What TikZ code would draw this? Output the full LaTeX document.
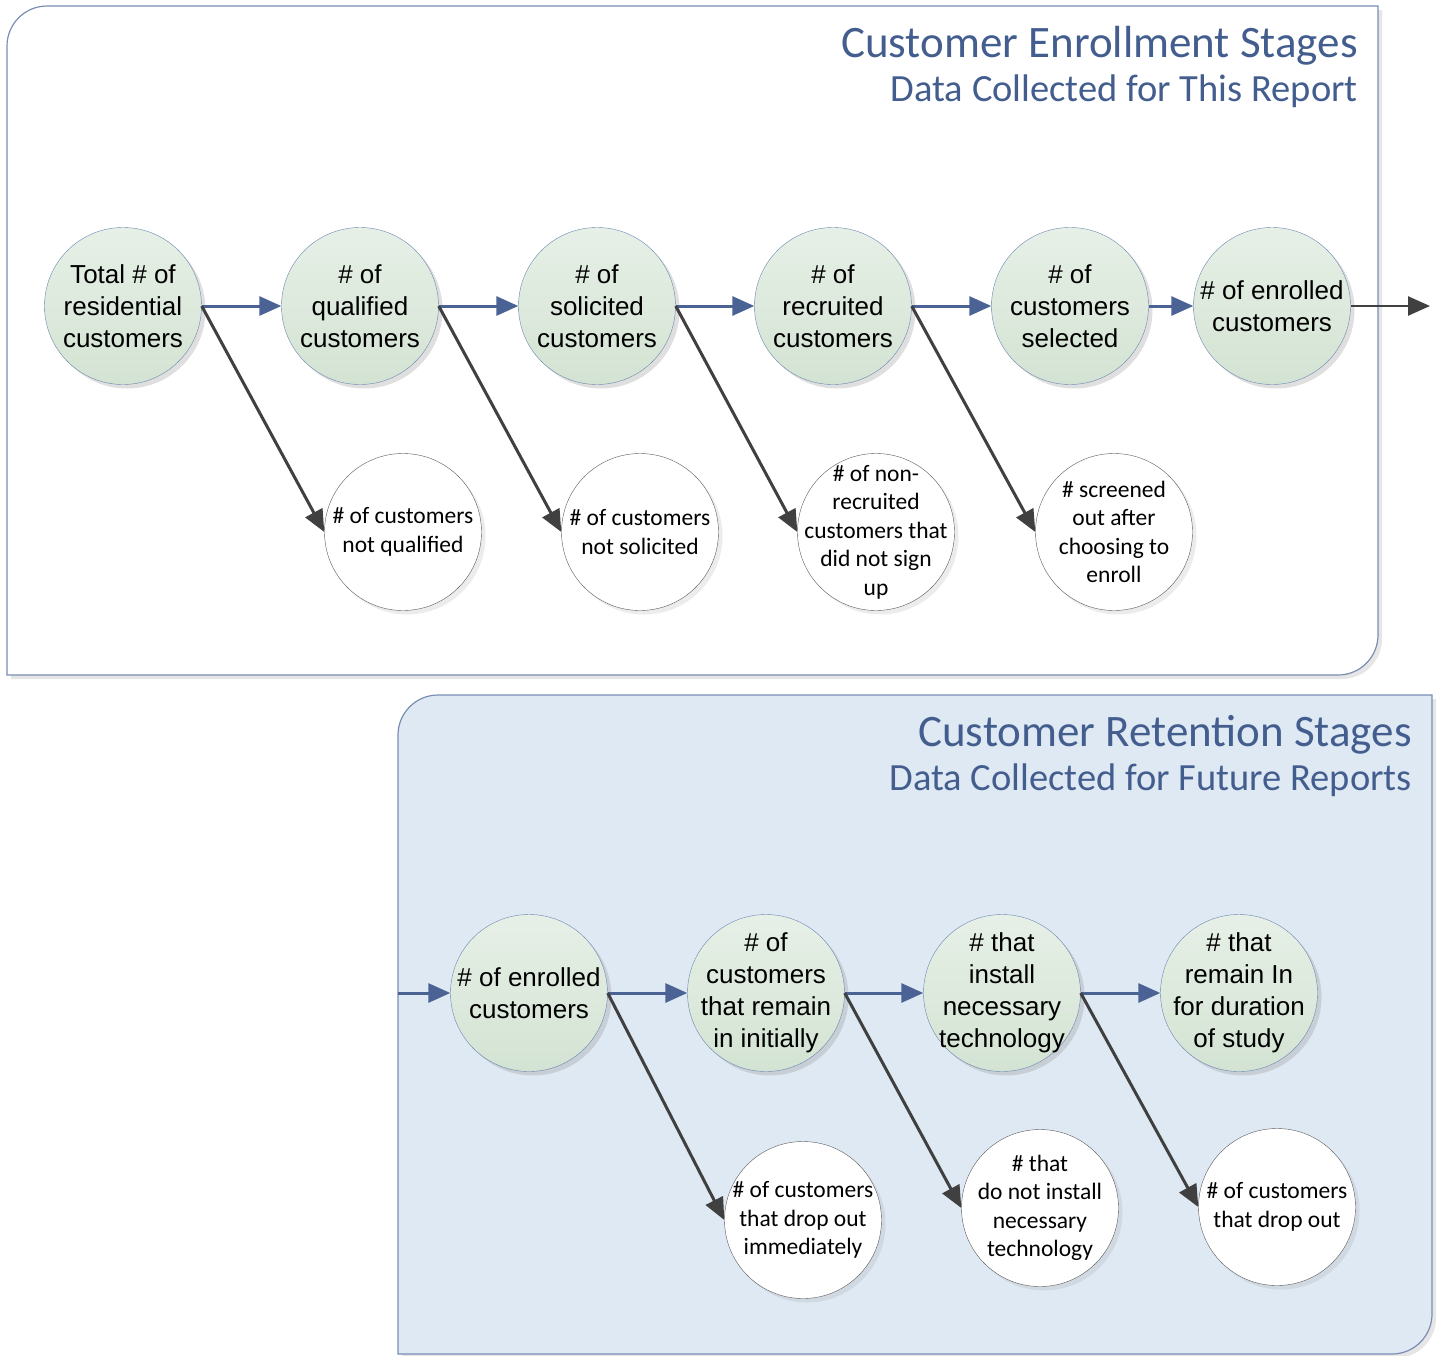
\documentclass[tikz,border=0pt]{standalone}
\usepackage{fontspec}
\setmainfont{Liberation Sans}
\newfontfamily\calfont{Carlito}
\usetikzlibrary{arrows.meta,shadows}
\definecolor{frameline}{HTML}{7A8DB3}
\definecolor{panelblue}{HTML}{DFE9F3}
\definecolor{titleblue}{HTML}{435E8E}
\definecolor{stageline}{HTML}{6A86B0}
\definecolor{stagetop}{HTML}{E7F0E7}
\definecolor{stagebot}{HTML}{D3E3D3}
\definecolor{lossline}{HTML}{5A5A5A}
\definecolor{flowblue}{HTML}{4A6394}
\definecolor{darkarrow}{HTML}{404040}

\begin{document}
\begin{tikzpicture}[x=1pt,y=1pt]
\tikzstyle{stage}=[circle, draw=stageline, top color=stagetop, bottom color=stagebot, minimum size=157pt, inner sep=-30pt, align=center, font=\fontsize{26}{32}\selectfont, drop shadow={shadow xshift=4pt, shadow yshift=-4pt, opacity=0.25}]
\tikzstyle{loss}=[circle, draw=lossline, fill=white, minimum size=157pt, inner sep=-30pt, align=center, font=\calfont\fontsize{23.5}{28.5}\selectfont, drop shadow={shadow xshift=4pt, shadow yshift=-4pt, opacity=0.15}]
\tikzstyle{flowarrow}=[draw=flowblue, line width=3pt, -{Triangle[length=22pt,width=19pt]}]
\tikzstyle{lossarrow}=[draw=darkarrow, line width=3pt, -{Triangle[length=22pt,width=19pt]}]
\tikzstyle{title}=[inner sep=0pt, text=titleblue, font=\calfont\fontsize{45}{50}\selectfont]
\tikzstyle{subtitle}=[inner sep=0pt, text=titleblue, font=\calfont\fontsize{38.5}{44}\selectfont]

\useasboundingbox (0,0) rectangle (1440,-1355);

% the two panels
\draw[frameline, line width=1.2pt, fill=white, drop shadow={shadow xshift=4pt, shadow yshift=-4pt, opacity=0.2}]
  (7,-675) -- (7,-46) arc[start angle=180, end angle=90, radius=40] -- (1378,-6)
  -- (1378,-635) arc[start angle=0, end angle=-90, radius=40] -- cycle;
\draw[frameline, line width=1.2pt, fill=panelblue, drop shadow={shadow xshift=4pt, shadow yshift=-4pt, opacity=0.2}]
  (398,-1354) -- (398,-735) arc[start angle=180, end angle=90, radius=40] -- (1432,-695)
  -- (1432,-1314) arc[start angle=0, end angle=-90, radius=40] -- cycle;

\node[title, anchor=base east] (T1) at (1358,-57) {Customer Enrollment Stages};
\node[subtitle, anchor=base east] (S1) at (1358,-101) {Data Collected for This Report};
\node[title, anchor=base east] (T2) at (1412,-746) {Customer Retention Stages};
\node[subtitle, anchor=base east] (S2) at (1412,-790) {Data Collected for Future Reports};

% enrollment
\node[stage] (c1) at (123,-306) {Total \# of\\residential\\customers};
\node[stage] (c2) at (360,-306) {\# of\\qualified\\customers};
\node[stage] (c3) at (597,-306) {\# of\\solicited\\customers};
\node[stage] (c4) at (833,-306) {\# of\\recruited\\customers};
\node[stage] (c5) at (1070,-306) {\# of\\customers\\selected};
\node[stage] (c6) at (1272,-306) {\# of enrolled\\customers};

\node[loss] (d1) at (403,-532) {\# of customers\\not qualified};
\node[loss] (d2) at (640,-532) {\# of customers\\not solicited};
\node[loss] (d3) at (876,-532) {\# of non-\\recruited\\customers that\\did not sign\\up};
\node[loss] (d4) at (1114,-532) {\# screened\\out after\\choosing to\\enroll};

\coordinate (exit) at (1430,-306);

\draw[flowarrow] (c1.east) -- (c2.west);
\draw[flowarrow] (c2.east) -- (c3.west);
\draw[flowarrow] (c3.east) -- (c4.west);
\draw[flowarrow] (c4.east) -- (c5.west);
\draw[flowarrow] (c5.east) -- (c6.west);
\draw[lossarrow, line width=2.5pt] (c6.east) -- (exit);

\draw[lossarrow] (c1.east) -- (d1.west);
\draw[lossarrow] (c2.east) -- (d2.west);
\draw[lossarrow] (c3.east) -- (d3.west);
\draw[lossarrow] (c4.east) -- (d4.west);

% retention
\node[stage] (e1) at (529,-993) {\# of enrolled\\customers};
\node[stage] (e2) at (766,-993) {\# of\\customers\\that remain\\in initially};
\node[stage] (e3) at (1002,-993) {\# that\\install\\necessary\\technology};
\node[stage] (e4) at (1239,-993) {\# that\\remain In\\for duration\\of study};

\node[loss] (f1) at (803,-1220) {\# of customers\\that drop out\\immediately};
\node[loss] (f2) at (1040,-1208) {\# that\\do not install\\necessary\\technology};
\node[loss] (f3) at (1277,-1207) {\# of customers\\that drop out};

\coordinate (entry) at (398,-993);

\draw[flowarrow] (entry) -- (e1.west);
\draw[flowarrow] (e1.east) -- (e2.west);
\draw[flowarrow] (e2.east) -- (e3.west);
\draw[flowarrow] (e3.east) -- (e4.west);

\draw[lossarrow] (e1.east) -- (f1.west);
\draw[lossarrow] (e2.east) -- (f2.west);
\draw[lossarrow] (e3.east) -- (f3.west);
\end{tikzpicture}
\end{document}
